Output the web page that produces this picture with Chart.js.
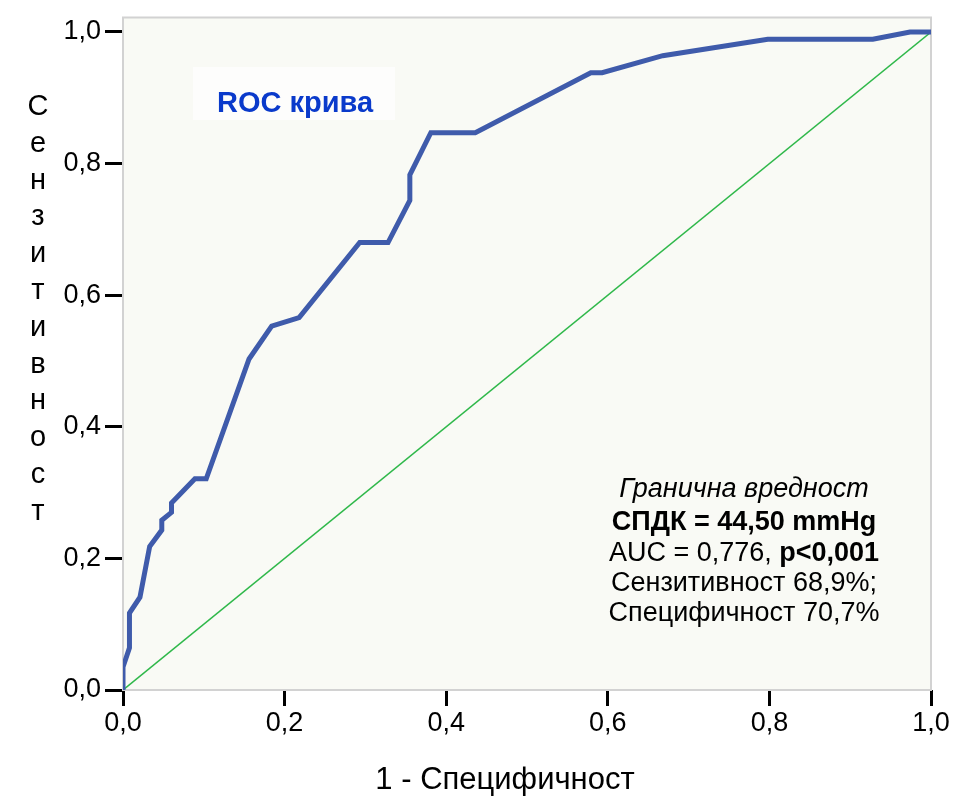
<!DOCTYPE html>
<html>
<head>
<meta charset="utf-8">
<script src="https://cdn.jsdelivr.net/npm/chart.js@4"></script>
<style>
  body { margin: 0; background: #fff; }
</style>
</head>
<body>
<canvas id="myChart" width="955" height="796"></canvas>
<script>
// ROC points
var fpr = [0, 0, 0.008, 0.008, 0.021, 0.033, 0.048, 0.048, 0.060, 0.060, 0.089, 0.103, 0.156, 0.184, 0.218, 0.293, 0.328, 0.355, 0.355, 0.381, 0.436, 0.579, 0.593, 0.668, 0.798, 0.928, 0.974, 1.0];
var tpr = [0, 0.035, 0.064, 0.117, 0.141, 0.218, 0.243, 0.258, 0.270, 0.284, 0.321, 0.321, 0.503, 0.553, 0.566, 0.680, 0.680, 0.744, 0.783, 0.847, 0.847, 0.938, 0.938, 0.964, 0.989, 0.989, 1.0, 1.0];
var refX = [0, 1];
var refY = [0, 1];
var tickValues = [0, 0.2, 0.4, 0.6, 0.8, 1.0];
var xTitle = "1 - Специфичност";
var yTitle = "Сензитивност";
var curveLabel = "ROC крива";
var noteLines = ["Гранична вредност", "СПДК = 44,50 mmHg", "AUC = 0,776, ", "p<0,001", "Сензитивност 68,9%;", "Специфичност 70,7%"];

var FONT = "'Liberation Sans', Arial, sans-serif";

function toPoints(xs, ys) {
  var pts = [];
  xs.forEach(function (x, i) { pts.push({x: x, y: ys[i]}); });
  return pts;
}

function fmt(v) {
  return v.toFixed(1).replace('.', ',');
}

var extras = {
  id: 'extras',
  beforeDatasetsDraw: function (chart) {
    var ctx = chart.ctx, a = chart.chartArea;
    ctx.save();
    ctx.fillStyle = '#f9faf5';
    ctx.fillRect(a.left, a.top, a.right - a.left, a.bottom - a.top);
    ctx.strokeStyle = '#d2d2d2';
    ctx.lineWidth = 2;
    ctx.strokeRect(a.left, a.top, a.right - a.left, a.bottom - a.top);
    // label box
    ctx.fillStyle = '#fdfdfc';
    ctx.fillRect(193, 67, 202, 53);
    ctx.restore();
  },
  afterDraw: function (chart) {
    var ctx = chart.ctx;
    ctx.save();
    // vertical stacked y title
    ctx.fillStyle = '#000';
    ctx.font = '29px ' + FONT;
    ctx.textAlign = 'center';
    ctx.textBaseline = 'alphabetic';
    var letters = Array.from(yTitle);
    letters.forEach(function (ch, i) {
      ctx.fillText(ch, 38, 115 + i * 36.8);
    });

    // x title
    ctx.font = '31px ' + FONT;
    ctx.fillText(xTitle, 505, 789);

    // ROC label
    ctx.fillStyle = '#0a3acb';
    ctx.font = 'bold 29px ' + FONT;
    ctx.fillText(curveLabel, 295, 112);

    // annotation
    var cx = 744;
    var sz = 27;
    ctx.fillStyle = '#000';
    ctx.font = 'italic ' + sz + 'px ' + FONT;
    ctx.fillText(noteLines[0], cx, 497);
    ctx.font = 'bold ' + sz + 'px ' + FONT;
    ctx.fillText(noteLines[1], cx, 530);
    // mixed line
    ctx.font = sz + 'px ' + FONT;
    var w1 = ctx.measureText(noteLines[2]).width;
    ctx.font = 'bold ' + sz + 'px ' + FONT;
    var w2 = ctx.measureText(noteLines[3]).width;
    var start = cx - (w1 + w2) / 2;
    ctx.textAlign = 'left';
    ctx.font = sz + 'px ' + FONT;
    ctx.fillText(noteLines[2], start, 561);
    ctx.font = 'bold ' + sz + 'px ' + FONT;
    ctx.fillText(noteLines[3], start + w1, 561);
    ctx.textAlign = 'center';
    ctx.font = sz + 'px ' + FONT;
    ctx.fillText(noteLines[4], cx, 591);
    ctx.fillText(noteLines[5], cx, 621);
    ctx.restore();
  }
};

const data = {
  datasets: [{
    data: toPoints(fpr, tpr),
    borderColor: '#3f5bab',
    borderWidth: 5,
    pointRadius: 0,
    fill: false,
    tension: 0
  }, {
    data: toPoints(refX, refY),
    borderColor: '#2fb84a',
    borderWidth: 1.5,
    pointRadius: 0,
    fill: false
  }]
};

const config = {
  type: 'line',
  data: data,
  plugins: [extras],
  options: {
    responsive: false,
    animation: false,
    layout: { padding: { top: 13, right: 24, left: 0, bottom: 0 } },
    plugins: {
      legend: { display: false },
      tooltip: { enabled: false }
    },
    scales: {
      x: {
        type: 'linear',
        min: 0,
        max: 1,
        afterFit: function (scale) { scale.height = 106; },
        afterBuildTicks: function (scale) {
          scale.ticks = tickValues.map(function (v) { return {value: v}; });
        },
        grid: { drawOnChartArea: false, drawTicks: true, tickLength: 16, color: '#000', lineWidth: 3 },
        border: { display: false },
        ticks: {
          color: '#000',
          font: { family: FONT, size: 27, lineHeight: 1 },
          padding: 4,
          maxRotation: 0,
          callback: function (v) { return fmt(v); }
        }
      },
      y: {
        type: 'linear',
        min: 0,
        max: 1.022,
        afterFit: function (scale) { scale.width = 123; },
        afterBuildTicks: function (scale) {
          scale.ticks = tickValues.map(function (v) { return {value: v}; });
        },
        grid: { drawOnChartArea: false, drawTicks: true, tickLength: 18, color: '#000', lineWidth: 3 },
        border: { display: false },
        ticks: {
          color: '#000',
          font: { family: FONT, size: 27, lineHeight: 1 },
          padding: 4,
          callback: function (v) { return fmt(v); }
        }
      }
    }
  }
};

const myChart = new Chart(document.getElementById('myChart'), config);
</script>
</body>
</html>
